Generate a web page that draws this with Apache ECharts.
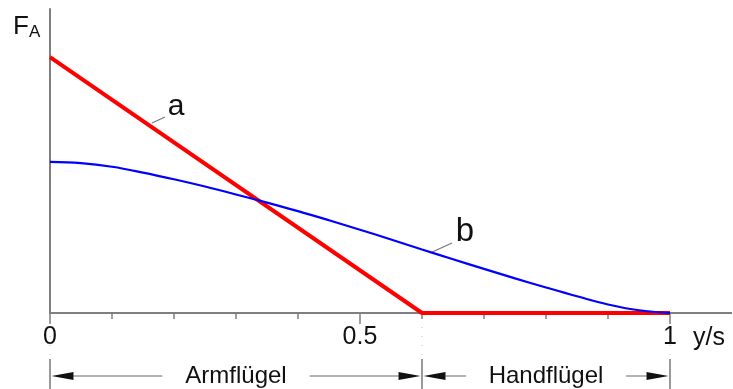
<!DOCTYPE html>
<html>
<head>
<meta charset="utf-8">
<script src="https://cdn.jsdelivr.net/npm/echarts@6/dist/echarts.min.js"></script>
<style>
html,body{margin:0;padding:0;background:#fff;}
#c{width:733px;height:389px;}
</style>
</head>
<body>
<div id="c"></div>
<script>
// Data
const tickLabels = ['0', '0.5', '1'];
const redX = [0, 0.6, 1];
const redY = [0.842, 0, 0];
const blueX = [0, 0.05, 0.1, 0.15, 0.2, 0.25, 0.3, 0.35, 0.4, 0.45, 0.5, 0.55, 0.6, 0.65, 0.7, 0.75, 0.8, 0.85, 0.9, 0.95, 1];
const blueY = [0.497, 0.493, 0.481, 0.462, 0.440, 0.416, 0.390, 0.363, 0.335, 0.305, 0.274, 0.242, 0.209, 0.177, 0.145, 0.114, 0.084, 0.055, 0.028, 0.009, 0];
const spans = [
  {from: 0, to: 0.6, label: 'Armflügel'},
  {from: 0.6, to: 1, label: 'Handflügel'}
];

const FONT = '"Liberation Sans", Arial, sans-serif';
const AX = '#7f7f7f';
const chart = echarts.init(document.getElementById('c'), null, {renderer: 'canvas'});

chart.setOption({
  animation: false,
  backgroundColor: '#fff',
  grid: {left: 50, right: 63, top: 9, bottom: 76},
  xAxis: {
    type: 'value', min: 0, max: 1, interval: 0.5,
    axisLine: {lineStyle: {color: AX, width: 2}},
    axisTick: {show: true, length: 11, lineStyle: {color: AX, width: 1.5}},
    minorTick: {show: true, splitNumber: 5, length: 6, lineStyle: {color: AX, width: 1.5}},
    splitLine: {show: false},
    minorSplitLine: {show: false},
    axisLabel: {
      fontSize: 25, fontFamily: FONT, color: '#111', margin: 12,
      formatter: v => {
        const i = [0, 0.5, 1].findIndex(t => Math.abs(t - v) < 1e-6);
        return i >= 0 ? tickLabels[i] : '';
      }
    }
  },
  yAxis: {
    type: 'value', min: 0, max: 1,
    axisLine: {show: true, lineStyle: {color: AX, width: 2}},
    axisTick: {show: false},
    axisLabel: {show: false},
    splitLine: {show: false}
  },
  series: [
    {
      type: 'line', data: redX.map((x, i) => [x, redY[i]]),
      showSymbol: false, z: 3,
      lineStyle: {color: '#ff0000', width: 4}
    },
    {
      type: 'line', data: blueX.map((x, i) => [x, blueY[i]]),
      showSymbol: false, smooth: 0.4, z: 4,
      lineStyle: {color: '#0000ff', width: 2.2}
    }
  ]
});

const P = (x, y) => chart.convertToPixel({gridIndex: 0}, [x, y]);
const [x0, y0] = P(0, 0);
const g = [];
// x-axis extension beyond 1
const [x1] = P(1, 0);
g.push({type: 'line', shape: {x1: x1, y1: y0, x2: 732, y2: y0}, style: {stroke: AX, lineWidth: 2}});
// F_A label
g.push({type: 'text', x: 13, y: 12, style: {text: '{f|F}{s|A}', rich: {
  f: {fontSize: 26, fontFamily: FONT, fill: '#111'},
  s: {fontSize: 17, fontFamily: FONT, fill: '#111', padding: [12, 0, 0, 0]}
}}});
// x unit
g.push({type: 'text', x: 693, y: 326, style: {text: 'y/s', fontSize: 25, fontFamily: FONT, fill: '#111'}});
// curve labels with leaders
g.push({type: 'line', shape: {x1: 152, y1: 123, x2: 165, y2: 117}, style: {stroke: '#777', lineWidth: 1.2}});
g.push({type: 'text', x: 176, y: 107, style: {text: 'a', fontSize: 30, fontFamily: FONT, fill: '#111', align: 'center', verticalAlign: 'middle'}});
g.push({type: 'line', shape: {x1: 430, y1: 253, x2: 452, y2: 243}, style: {stroke: '#777', lineWidth: 1.2}});
g.push({type: 'text', x: 465, y: 232, style: {text: 'b', fontSize: 33, fontFamily: FONT, fill: '#111', align: 'center', verticalAlign: 'middle'}});

// dimension row
const ay = 376;
const AL = 22, AW = 4;
const bounds = [0, 0.6, 1];
bounds.forEach(b => {
  const [bx] = P(b, 0);
  g.push({type: 'line', shape: {x1: bx, y1: y0 + 14, x2: bx, y2: 358}, style: {stroke: '#bbb', lineWidth: 1, lineDash: [1, 8]}});
  g.push({type: 'line', shape: {x1: bx, y1: 359, x2: bx, y2: 389}, style: {stroke: '#555', lineWidth: 1.2}});
});
spans.forEach(s => {
  const [a] = P(s.from, 0);
  const [b] = P(s.to, 0);
  const c = (a + b) / 2;
  const ax = a + 1.5, bx = b - 1.5;
  g.push({type: 'text', x: c, y: ay, style: {text: s.label, fontSize: 24, fontFamily: FONT, fill: '#111', align: 'center', verticalAlign: 'middle'}});
  const half = s.label.length * 6.3 + 17;
  g.push({type: 'line', shape: {x1: ax + AL, y1: ay, x2: c - half, y2: ay}, style: {stroke: '#666', lineWidth: 1}});
  g.push({type: 'line', shape: {x1: c + half, y1: ay, x2: bx - AL, y2: ay}, style: {stroke: '#666', lineWidth: 1}});
  g.push({type: 'polygon', shape: {points: [[ax, ay], [ax + AL, ay - AW], [ax + AL, ay + AW]]}, style: {fill: '#111'}});
  g.push({type: 'polygon', shape: {points: [[bx, ay], [bx - AL, ay - AW], [bx - AL, ay + AW]]}, style: {fill: '#111'}});
});
chart.setOption({graphic: g});
</script>
</body>
</html>
